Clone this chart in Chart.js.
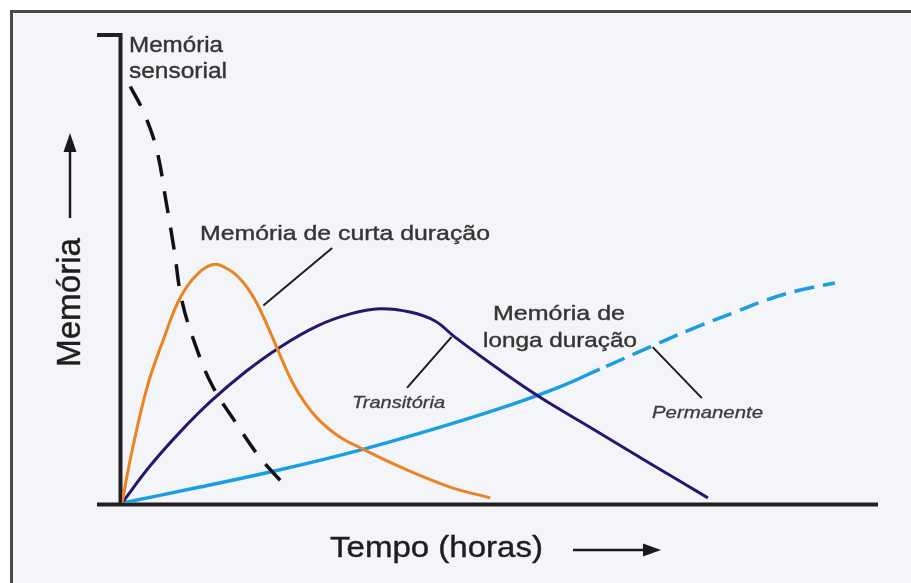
<!DOCTYPE html>
<html>
<head>
<meta charset="utf-8">
<script src="https://cdn.jsdelivr.net/npm/chart.js@4/dist/chart.umd.min.js"></script>
<style>
  html, body { margin: 0; padding: 0; background: #ffffff; }
  canvas { display: block; }
</style>
</head>
<body>
<canvas id="c" width="911" height="583"></canvas>
<script>
// ---------- DATA (time in arbitrary hours 0..100, memory 0..100) ----------
const sensorialX = [1.1, 3.0, 4.6, 5.8, 6.9, 7.9, 9.7, 11.9, 15.0, 18.3, 22.0];
const sensorialY = [89, 83, 75.4, 64.7, 54.1, 43.4, 33.8, 25.2, 17.3, 9.6, 3.0];

const curtaX = [0, 1.3, 3.4, 5.7, 7.4, 9.4, 11.9, 14.0, 15.9, 17.6, 19.2, 20.9, 22.5, 24.2, 26.2, 28.8, 31.5, 36.8, 43.4, 48.7];
const curtaY = [0, 10.9, 25.2, 35.9, 42.9, 47.9, 50.9, 50.0, 47.4, 43.4, 38.0, 31.6, 25.9, 21.4, 17.5, 14.1, 11.8, 7.7, 3.4, 1.1];

const longaX = [0, 3.7, 7.7, 11.8, 16.3, 20.9, 25.8, 30.2, 34.1, 38.1, 41.4, 44.0, 50.0, 55.3, 61.9, 69.8, 77.5];
const longaY = [0, 7.9, 15.2, 21.8, 28.0, 33.3, 37.8, 40.4, 41.5, 40.8, 38.9, 35.5, 28.4, 22.6, 16.2, 8.5, 1.1];

const permanenteX = [0, 10.3, 20.9, 31.5, 42.1, 51.3, 57.9, 63.2, 69.8, 75.1, 80.8, 85.3, 89.7, 94.3];
const permanenteY = [0, 3.4, 7.1, 11.3, 16.2, 20.9, 24.8, 28.6, 33.3, 37.0, 40.6, 43.4, 45.5, 47.0];
const permanenteDashFrom = 63;   // hours: the permanent trace becomes dashed here

// ---------- LABELS ----------
const sensorialLabel = ["Memória", "sensorial"];
const curtaLabel = "Memória de curta duração";
const longaLabel = ["Memória de", "longa duração"];
const transitoriaLabel = "Transitória";
const permanenteLabel = "Permanente";
const xTitle = "Tempo (horas)";
const yTitle = "Memória";

// leader lines, in data units: [x1, y1, x2, y2]
const leaderCurta = [27.8, 54.5, 18.7, 42.2];
const leaderTransitoria = [43.6, 35.5, 37.7, 24.6];
const leaderPermanente = [70.2, 33.3, 76.7, 22.4];

// ---------- helpers ----------
const toPts = (xs, ys) => xs.map((x, i) => ({ x: x, y: ys[i] }));
const FONT = '"Liberation Sans", Arial, Helvetica, sans-serif';

function drawText(ctx, t) {
  ctx.save();
  ctx.font = (t.italic ? 'italic ' : '') + t.size + 'px ' + FONT;
  const w = ctx.measureText(t.text).width;
  const sx = t.width ? t.width / w : 1;
  ctx.translate(t.x, t.y);
  if (t.rotate) ctx.rotate(t.rotate);
  ctx.scale(sx, t.sy || 1);
  ctx.textAlign = 'left';
  ctx.textBaseline = 'alphabetic';
  ctx.fillStyle = t.color;
  ctx.strokeStyle = t.color;
  ctx.lineWidth = t.bold || 0;
  ctx.fillText(t.text, 0, 0);
  if (t.bold) ctx.strokeText(t.text, 0, 0);
  ctx.restore();
}

const decorPlugin = {
  id: 'decor',
  beforeDraw(chart) {
    const ctx = chart.ctx;
    ctx.save();
    ctx.fillStyle = '#ffffff';
    ctx.fillRect(0, 0, chart.width, chart.height);
    ctx.fillStyle = '#f4f5f8';
    ctx.fillRect(12, 12, chart.width, chart.height);
    ctx.strokeStyle = '#4a4a4a';
    ctx.lineWidth = 3;
    ctx.strokeRect(11.5, 11.5, chart.width + 20, chart.height + 20);
    ctx.restore();
  },
  beforeDatasetsDraw(chart) {
    const ctx = chart.ctx;
    const a = chart.chartArea;
    ctx.save();
    ctx.strokeStyle = '#231f20';
    ctx.lineWidth = 4;
    ctx.lineCap = 'butt';
    ctx.beginPath();
    ctx.moveTo(a.left - 25, a.top);
    ctx.lineTo(a.left - 1.5, a.top);
    ctx.lineTo(a.left - 1.5, a.bottom + 1);
    ctx.stroke();
    ctx.beginPath();
    ctx.moveTo(a.left - 25, a.bottom + 1.5);
    ctx.lineTo(a.right, a.bottom + 1.5);
    ctx.stroke();
    ctx.restore();
  },
  afterDatasetsDraw(chart) {
    const ctx = chart.ctx;
    const xs = chart.scales.x, ys = chart.scales.y;
    ctx.save();
    ctx.strokeStyle = '#1e1e1e';
    ctx.lineWidth = 2;
    [leaderCurta, leaderTransitoria, leaderPermanente].forEach(l => {
      ctx.beginPath();
      ctx.moveTo(xs.getPixelForValue(l[0]), ys.getPixelForValue(l[1]));
      ctx.lineTo(xs.getPixelForValue(l[2]), ys.getPixelForValue(l[3]));
      ctx.stroke();
    });

    ctx.strokeStyle = '#1a1a1a';
    ctx.fillStyle = '#1a1a1a';
    ctx.lineWidth = 2.5;
    ctx.beginPath();
    ctx.moveTo(573, 550); ctx.lineTo(648, 550); ctx.stroke();
    ctx.beginPath();
    ctx.moveTo(661, 550); ctx.lineTo(643, 543.5); ctx.lineTo(643, 556.5); ctx.closePath(); ctx.fill();
    ctx.beginPath();
    ctx.moveTo(70, 218); ctx.lineTo(70, 148); ctx.stroke();
    ctx.beginPath();
    ctx.moveTo(70, 133); ctx.lineTo(63.5, 152); ctx.lineTo(76.5, 152); ctx.closePath(); ctx.fill();
    ctx.restore();

    const lab = '#353535';
    drawText(ctx, { text: sensorialLabel[0], x: 129, y: 52, size: 22, width: 94, color: lab, bold: 0.4 });
    drawText(ctx, { text: sensorialLabel[1], x: 129, y: 78, size: 22, width: 98, color: lab, bold: 0.4 });
    drawText(ctx, { text: curtaLabel, x: 200, y: 240, size: 21, width: 290, color: lab, bold: 0.4 });
    drawText(ctx, { text: longaLabel[0], x: 493, y: 320, size: 21, width: 132, color: lab, bold: 0.4 });
    drawText(ctx, { text: longaLabel[1], x: 483, y: 347, size: 21, width: 154, color: lab, bold: 0.4 });
    drawText(ctx, { text: transitoriaLabel, x: 352, y: 408, size: 17, width: 93, italic: true, color: '#3c3c3c', bold: 0.3 });
    drawText(ctx, { text: permanenteLabel, x: 652, y: 418, size: 17, width: 111, italic: true, color: '#3c3c3c', bold: 0.3 });
    drawText(ctx, { text: xTitle, x: 330, y: 557, size: 29, width: 213, color: '#1e1e1e', bold: 0.4 });
    drawText(ctx, { text: yTitle, x: 80, y: 367, size: 29, width: 129, sy: 1.12, rotate: -Math.PI / 2, color: '#1e1e1e', bold: 0.4 });
  }
};

const isDashed = c => c.p0.parsed.x >= permanenteDashFrom;

new Chart(document.getElementById('c'), {
  type: 'line',
  data: {
    datasets: [
      {
        label: 'Memória sensorial',
        data: toPts(sensorialX, sensorialY),
        borderColor: '#111111',
        borderWidth: 3.5,
        borderDash: [22, 15],
        pointRadius: 0,
        tension: 0.4,
        fill: false
      },
      {
        label: 'Memória de curta duração',
        data: toPts(curtaX, curtaY),
        borderColor: '#ea8422',
        borderWidth: 3,
        pointRadius: 0,
        tension: 0.4,
        fill: false
      },
      {
        label: 'Memória de longa duração — transitória',
        data: toPts(longaX, longaY),
        borderColor: '#25176e',
        borderWidth: 3,
        pointRadius: 0,
        tension: 0.4,
        fill: false
      },
      {
        label: 'Memória de longa duração — permanente',
        data: toPts(permanenteX, permanenteY),
        borderColor: '#1b9de2',
        borderWidth: 3.5,
        pointRadius: 0,
        tension: 0.4,
        fill: false,
        segment: {
          borderDash: c => (isDashed(c) ? [20, 9] : undefined),
          borderDashOffset: c => (isDashed(c) ? 22 : undefined)
        }
      }
    ]
  },
  options: {
    responsive: false,
    devicePixelRatio: 1,
    animation: false,
    layout: { padding: { left: 122, right: 33, top: 35, bottom: 80 } },
    scales: {
      x: { type: 'linear', min: 0, max: 100, display: false },
      y: { type: 'linear', min: 0, max: 100, display: false }
    },
    plugins: {
      legend: { display: false },
      tooltip: { enabled: false },
      title: { display: false }
    }
  },
  plugins: [decorPlugin]
});
</script>
</body>
</html>
